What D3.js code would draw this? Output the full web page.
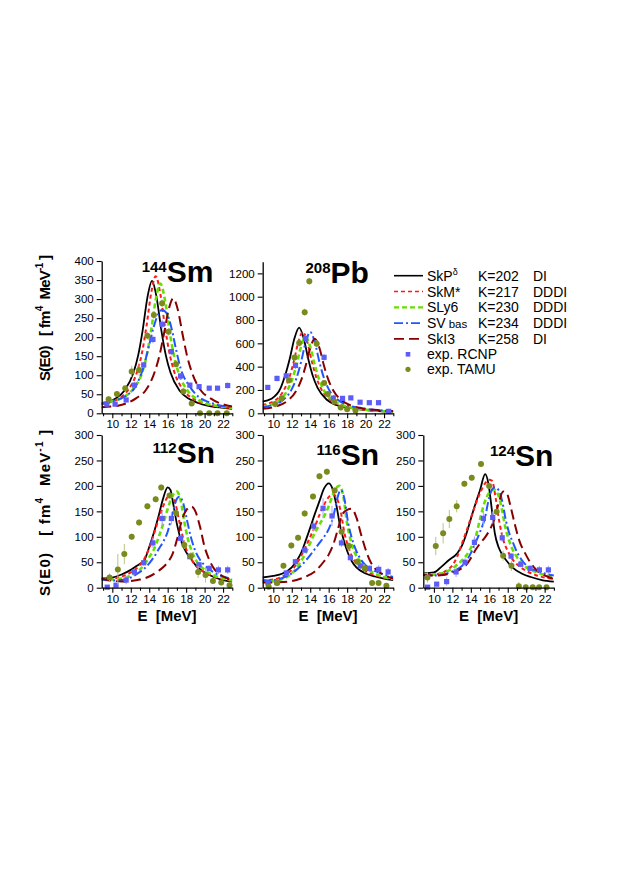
<!DOCTYPE html>
<html>
<head>
<meta charset="utf-8">
<script src="https://cdn.jsdelivr.net/npm/d3@7"></script>
<style>
  body { margin: 0; background: #fff; }
  svg { display: block; }
  text { font-family: "Liberation Sans", Arial, sans-serif; fill: #000; }
</style>
</head>
<body>
<svg id="chart" width="621" height="877"></svg>
<script>
// ---- legend / model info ----
const modelNames = ["SkP", "SkM*", "SLy6", "SV", "SkI3"];
const modelK = ["K=202", "K=217", "K=230", "K=234", "K=258"];
const modelType = ["DI", "DDDI", "DDDI", "DDDI", "DI"];
const expNames = ["exp. RCNP", "exp. TAMU"];

// ---- panels ----
const massNumbers = ["144", "208", "112", "116", "124"];
const elements = ["Sm", "Pb", "Sn", "Sn", "Sn"];
const yMaxima = [400, 1300, 300, 300, 300];
const yTickLabels = [
  [0, 50, 100, 150, 200, 250, 300, 350, 400],
  [0, 200, 400, 600, 800, 1000, 1200],
  [0, 50, 100, 150, 200, 250, 300],
  [0, 50, 100, 150, 200, 250, 300],
  [0, 50, 100, 150, 200, 250, 300]
];
const xTickLabels = [10, 12, 14, 16, 18, 20, 22];
const xMinorTicks = [9, 11, 13, 15, 17, 19, 21, 23];

// ---- 144Sm : [E (MeV), S(E0)] ----
const sm144_SkP = [[8.8,25],[10.3,38],[11.3,59],[12.3,107],[12.8,152],[13.3,220],[13.8,304],[14.3,348],[14.8,304],[15.3,220],[15.8,152],[16.3,107],[17.3,59],[18.3,38],[19.3,27],[20.3,20],[21.3,16],[23,12]];
const sm144_SkM = [[8.8,24],[10.7,39],[11.7,61],[12.7,110],[13.2,157],[13.7,228],[14.2,314],[14.7,360],[15.2,314],[15.7,228],[16.2,157],[16.7,110],[17.7,61],[18.7,39],[19.7,27],[20.7,21],[21.7,17],[23,14]];
const sm144_SLy6 = [[8.8,27],[11.2,42],[12.2,62],[13.2,105],[13.7,149],[14.2,216],[14.7,298],[15.2,341],[15.7,298],[16.2,216],[16.7,149],[17.2,105],[18.2,58],[19.2,37],[20.2,26],[21.2,20],[23,14]];
const sm144_SV = [[8.8,26],[10.5,35],[11.5,46],[12.5,70],[13.3,115],[14,180],[14.5,228],[15,262],[15.4,271],[15.9,262],[16.4,225],[16.9,168],[17.4,118],[18.4,70],[19.4,42],[20.4,30],[21.4,22],[23,16]];
const sm144_SkI3 = [[8.8,16],[10.6,20],[11.6,27],[12.6,40],[13.6,60],[14.6,109],[15.1,151],[15.6,209],[16.1,272],[16.6,302],[17.1,272],[17.6,209],[18.1,151],[18.6,109],[19.6,60],[20.6,40],[21.6,27],[23,18]];
// [E, S, error]
const sm144_RCNP = [[9.4,24,5],[10.3,24,5],[11.5,35,5],[12.4,74,8],[13.4,127,8],[14.4,194,10],[15.4,234,12],[16.4,162,10],[17.4,98,8],[18.4,74,6],[19.4,70,6],[20.5,66,6],[21.4,66,6],[22.5,73,8]];
const sm144_TAMU = [[9.6,37,8],[10.5,51,6],[11.4,66,6],[12.1,110,15],[12.9,114,15],[13.8,204,10],[14.5,258,10],[15.4,289,10],[16.1,214,10],[16.9,129,8],[17.7,57,6],[18.6,26,5],[19.5,0,3],[20.5,0,3],[21.4,0,3],[22.4,0,3]];

// ---- 208Pb ----
const pb208_SkP = [[8.8,100],[9.8,125],[10.8,218],[11.3,330],[11.8,475],[12.3,645],[12.8,734],[13.3,639],[13.8,461],[14.3,315],[14.8,218],[15.8,116],[16.8,72],[17.8,52],[18.8,40],[19.8,30],[21,22],[23,14]];
const pb208_SkM = [[8.8,72],[10.2,110],[11.2,207],[11.7,299],[12.2,438],[12.7,607],[13.2,697],[13.7,607],[14.2,438],[14.7,299],[15.2,207],[16.2,115],[17.2,72],[18.2,50],[19.2,37],[20.2,28],[21.5,21],[23,15]];
const pb208_SLy6 = [[8.8,58],[10.5,103],[11.5,194],[12,281],[12.5,411],[13,570],[13.5,654],[14,570],[14.5,411],[15,281],[15.5,194],[16.5,108],[17.5,68],[18.5,48],[19.5,35],[20.5,27],[21.5,21],[23,15]];
const pb208_SV = [[8.8,50],[10,75],[11,110],[12,207],[12.5,299],[13,438],[13.5,607],[14,697],[14.5,607],[15,438],[15.5,299],[16,207],[17,115],[18,72],[19,50],[20,37],[21,29],[22,23],[23,18]];
const pb208_SkI3 = [[8.8,38],[10.5,65],[11.5,105],[12.5,195],[13,280],[13.5,405],[14,560],[14.5,640],[15,560],[15.5,405],[16,280],[16.5,195],[17.5,105],[18.5,65],[19.5,45],[20.5,33],[21.5,26],[23,18]];
const pb208_RCNP = [[9.4,222,20],[10.4,299,25],[11.4,321,25],[12.4,410,30],[13.5,640,30],[15.5,480,30],[16.5,130,15],[17.5,128,12],[18.4,132,12],[19.4,95,10],[20.4,91,10],[21.4,91,10],[22.5,17,8]];
const pb208_TAMU = [[10.2,80,30],[10.9,128,30],[11.7,284,30],[12.3,478,30],[12.8,603,30],[13.4,867,30],[13.9,1132,30],[14.7,597,30],[15.5,260,20],[15.9,165,15],[16.6,98,12],[17.3,50,10],[18,35,8],[18.9,25,8]];

// ---- 112Sn ----
const sn112_SkP = [[8.8,18],[10,20],[11,26],[12,35],[12.5,41],[13,47],[13.5,55],[14,80],[14.5,108],[15,140],[15.5,175],[16,197],[16.3,192],[16.6,165],[17,125],[17.5,90],[18,70],[18.5,57],[19,45],[20,30],[21,21],[22,15],[23,12]];
const sn112_SkM = [[8.8,18],[10,18],[11,22],[12,30],[12.5,36],[13,45],[13.5,58],[14,78],[14.5,105],[15,133],[15.5,160],[16,178],[16.4,182],[16.8,168],[17.2,135],[17.6,102],[18,76],[18.5,58],[19,44],[20,30],[21,22],[22,17],[23,14]];
const sn112_SLy6 = [[8.8,17],[10,16],[11,18],[12,24],[12.5,29],[13,36],[13.5,46],[14,60],[14.5,75],[15,98],[15.5,125],[16,155],[16.5,180],[17,189],[17.4,172],[17.8,130],[18.2,95],[18.6,72],[19,56],[20,35],[21,24],[22,18],[23,14]];
const sn112_SV = [[8.8,16],[10,14],[11,15],[12,20],[12.5,25],[13,31],[13.5,38],[14,48],[14.5,60],[15,75],[15.5,90],[16,110],[16.5,145],[17,175],[17.3,179],[17.7,165],[18.1,132],[18.5,100],[19,72],[19.5,55],[20,44],[21,30],[22,22],[23,17]];
const sn112_SkI3 = [[8.8,18],[10,14],[11,12],[12,13],[13,16],[14,22],[15,33],[15.5,40],[16,50],[16.5,65],[17,94],[17.5,130],[18,152],[18.6,159],[19,150],[19.5,120],[20,80],[20.5,55],[21,38],[21.5,28],[22,22],[23,15]];
const sn112_RCNP = [[9.45,1,3],[10.4,5,3],[11.5,15,8],[12.4,31,6],[13.4,49,6],[14.4,88,10],[15.4,136,15],[16.4,136,12],[17.4,97,8],[18.4,61,6],[19.4,45,6],[20.5,38,6],[21.5,35,8],[22.5,35,8]];
const sn112_TAMU = [[9.7,20,8],[10.6,36,30],[11.3,66,20],[12.1,100,6],[12.9,128,6],[13.8,160,6],[14.7,174,6],[15.3,197,6],[16.2,181,6],[16.9,147,6],[17.8,84,8],[18.5,62,8],[19.3,31,12],[20.1,25,15],[20.9,13,6],[21.8,10,5],[22.7,5,5]];

// ---- 116Sn ----
const sn116_SkP = [[8.8,20],[10,23],[11,28],[12,40],[12.5,52],[13,68],[13.5,92],[14,118],[14.5,145],[15,170],[15.5,195],[16,205],[16.4,195],[16.8,165],[17.2,125],[17.6,95],[18,72],[18.5,52],[19,40],[20,28],[21,22],[22,18],[23,15]];
const sn116_SkM = [[8.8,14],[10,16],[11,22],[12,35],[12.5,46],[13,62],[13.5,80],[14,100],[14.5,120],[15,143],[15.5,163],[16,178],[16.5,183],[16.9,175],[17.3,150],[17.7,108],[18.1,82],[18.5,62],[19,48],[20,33],[21,25],[22,20],[23,17]];
const sn116_SLy6 = [[8.8,12],[10,13],[11,17],[12,28],[12.5,38],[13,52],[13.5,68],[14,88],[14.5,108],[15,124],[15.5,140],[16,160],[16.5,185],[17,199],[17.2,200],[17.6,178],[18,125],[18.4,92],[18.8,70],[19.5,50],[20,40],[21,28],[22,21],[23,17]];
const sn116_SV = [[8.8,14],[10,15],[11,19],[12,28],[12.5,35],[13,43],[13.5,53],[14,64],[14.5,76],[15,88],[15.5,100],[16,115],[16.5,140],[17,180],[17.3,192],[17.7,175],[18.1,128],[18.5,98],[19,72],[19.5,55],[20,44],[21,33],[22,26],[23,21]];
const sn116_SkI3 = [[8.8,10],[10,10],[11,11],[12,13],[13,18],[14,26],[14.5,32],[15,41],[15.5,52],[16,65],[16.5,85],[17,115],[17.5,145],[18,153],[18.5,155],[19,138],[19.5,105],[20,75],[20.5,52],[21,38],[22,25],[23,18]];
const sn116_RCNP = [[9.42,9,4],[10.4,10,4],[11.41,29,6],[12.39,51,6],[13.4,74,6],[14.37,121,10],[15.39,156,20],[16.36,141,20],[17.38,88,8],[18.35,59,6],[19.44,43,6],[20.41,38,6],[21.42,36,8],[22.44,31,8]];
const sn116_TAMU = [[9.5,2,4],[10.4,9,6],[11.1,43,6],[11.95,83,6],[12.68,98,6],[13.4,146,6],[14.3,179,6],[15,219,6],[15.8,228,6],[16.65,191,6],[17.4,110,8],[18.2,82,8],[19.1,51,8],[19.9,38,8],[20.7,9,5],[21.4,9,5],[22.25,4,4]];

// ---- 124Sn ----
const sn124_SkP = [[8.8,28],[10,30],[10.8,41],[11.6,54],[12.5,67],[13,81],[13.5,105],[14,135],[14.5,165],[15,192],[15.55,223],[15.9,205],[16.3,150],[16.6,107],[17,80],[17.4,65],[18,50],[18.5,40],[19.5,28],[20.5,21],[21.7,15],[23,12]];
const sn124_SkM = [[8.8,25],[10,26],[11,30],[11.5,35],[12,44],[12.5,60],[13,85],[13.5,110],[14,137],[14.5,163],[15,186],[15.5,204],[16,212],[16.3,210],[16.7,175],[17.1,128],[17.5,95],[18,72],[18.5,56],[19,46],[20,33],[21,25],[22,20],[23,17]];
const sn124_SLy6 = [[8.8,27],[10,26],[11,29],[12,38],[12.5,45],[13,53],[13.5,63],[14,78],[14.5,98],[15,135],[15.5,168],[16,187],[16.5,193],[16.9,185],[17.3,160],[17.7,122],[18.1,95],[18.5,76],[19,60],[19.5,48],[20,40],[21,31],[22,25],[23,21]];
const sn124_SV = [[8.8,25],[10,24],[11,26],[12,32],[12.5,36],[13,42],[13.5,52],[14,68],[14.5,88],[15,110],[15.5,135],[16,178],[16.3,193],[16.6,197],[17,192],[17.4,170],[17.8,132],[18.2,105],[18.6,87],[19,70],[19.5,55],[20,44],[21,34],[22,28],[23,24]];
const sn124_SkI3 = [[8.8,25],[10,24],[11,25],[12,30],[12.5,33],[13,38],[13.5,45],[14,58],[14.5,74],[15,87],[15.5,98],[16,112],[16.5,132],[17,165],[17.5,189],[17.9,185],[18.3,160],[18.8,122],[19.3,90],[19.9,67],[20.5,48],[21,37],[22,24],[23,17]];
const sn124_RCNP = [[9.32,1,3],[10.3,7,3],[11.38,12,8],[12.4,31,10],[13.37,50,8],[14.39,89,12],[15.36,136,15],[16.37,138,12],[17.4,98,8],[18.36,62,6],[19.41,46,6],[20.42,38,6],[21.43,35,8],[22.4,35,8]];
const sn124_TAMU = [[9.3,20,10],[10.2,82,18],[11,107,20],[11.67,135,18],[12.47,160,12],[13.3,204,6],[14.1,216,6],[15.1,243,6],[15.98,200,6],[16.8,149,6],[17.5,63,10],[18.4,43,10],[19.2,3,8],[19.95,1,6],[20.7,1,5],[21.4,1,4],[22.2,1,4]];

const panelCurves = [
  [sm144_SkP, sm144_SkM, sm144_SLy6, sm144_SV, sm144_SkI3],
  [pb208_SkP, pb208_SkM, pb208_SLy6, pb208_SV, pb208_SkI3],
  [sn112_SkP, sn112_SkM, sn112_SLy6, sn112_SV, sn112_SkI3],
  [sn116_SkP, sn116_SkM, sn116_SLy6, sn116_SV, sn116_SkI3],
  [sn124_SkP, sn124_SkM, sn124_SLy6, sn124_SV, sn124_SkI3]
];
const panelRCNP = [sm144_RCNP, pb208_RCNP, sn112_RCNP, sn116_RCNP, sn124_RCNP];
const panelTAMU = [sm144_TAMU, pb208_TAMU, sn112_TAMU, sn116_TAMU, sn124_TAMU];

// ---- styles ----
const lineStyles = [
  { color: "#000000", width: 1.8, dash: null },
  { color: "#ff1a1a", width: 2.0, dash: "4,3" },
  { color: "#66e000", width: 2.6, dash: "5,3" },
  { color: "#2255ff", width: 2.0, dash: "9,3,2,3" },
  { color: "#880000", width: 2.0, dash: "10,5" }
];
const rcnpColor = "#5c5cf6", rcnpErr = "#a5a5fb";
const tamuColor = "#7a8a1c", tamuErr = "#bcc481";

// ---- layout ----
const panelBox = [
  { left: 101.7, top: 261.0, bottom: 413.3, titleX: 141.7, titleY: 282 },
  { left: 262.7, top: 261.7, bottom: 413.3, titleX: 305.5, titleY: 283 },
  { left: 101.7, top: 435.0, bottom: 587.7, titleX: 152.5, titleY: 463 },
  { left: 262.7, top: 435.0, bottom: 587.7, titleX: 316.5, titleY: 465 },
  { left: 423.3, top: 435.0, bottom: 587.7, titleX: 490.0, titleY: 466 }
];
const panelWidth = 130.6;

const svg = d3.select("#chart");
const defs = svg.append("defs");

function styleAxis(sel) {
  sel.select(".domain").attr("stroke", "#000").attr("stroke-width", 1.3);
  sel.selectAll(".tick line").attr("stroke", "#000").attr("stroke-width", 1.1);
  sel.selectAll(".tick text").attr("font-size", 11.5).attr("fill", "#000")
    .attr("font-family", '"Liberation Sans", Arial, sans-serif');
}

panelBox.forEach(function(b, i) {
  const x = d3.scaleLinear().domain([8.85, 23]).range([b.left, b.left + panelWidth]);
  const y = d3.scaleLinear().domain([0, yMaxima[i]]).range([b.bottom, b.top]);

  defs.append("clipPath").attr("id", "clip" + i)
    .append("rect")
    .attr("x", b.left).attr("y", b.top - 5)
    .attr("width", panelWidth).attr("height", b.bottom - b.top + 5);

  const g = svg.append("g");

  // curves
  const line = d3.line()
    .x(d => x(d[0]))
    .y(d => y(d[1]))
    .curve(d3.curveMonotoneX);
  const cg = g.append("g").attr("clip-path", "url(#clip" + i + ")");
  panelCurves[i].forEach(function(c, k) {
    const st = lineStyles[k];
    cg.append("path")
      .datum(c)
      .attr("d", line)
      .attr("fill", "none")
      .attr("stroke", st.color)
      .attr("stroke-width", st.width)
      .attr("stroke-dasharray", st.dash);
  });

  // experiment: RCNP squares
  const rg = g.append("g");
  rg.selectAll("line.err").data(panelRCNP[i]).enter().append("line")
    .attr("x1", d => x(d[0])).attr("x2", d => x(d[0]))
    .attr("y1", d => y(Math.max(0, d[1] - d[2]))).attr("y2", d => y(d[1] + d[2]))
    .attr("stroke", rcnpErr).attr("stroke-width", 1);
  rg.selectAll("rect").data(panelRCNP[i]).enter().append("rect")
    .attr("x", d => x(d[0]) - 2.6).attr("y", d => y(d[1]) - 2.6)
    .attr("width", 5.2).attr("height", 5.2)
    .attr("fill", rcnpColor);

  // experiment: TAMU circles
  const tg = g.append("g");
  tg.selectAll("line.err").data(panelTAMU[i]).enter().append("line")
    .attr("x1", d => x(d[0])).attr("x2", d => x(d[0]))
    .attr("y1", d => y(Math.max(0, d[1] - d[2]))).attr("y2", d => y(d[1] + d[2]))
    .attr("stroke", tamuErr).attr("stroke-width", 1);
  tg.selectAll("circle").data(panelTAMU[i]).enter().append("circle")
    .attr("cx", d => x(d[0])).attr("cy", d => y(d[1]))
    .attr("r", 3)
    .attr("fill", tamuColor);

  // axes
  const xa = g.append("g").attr("transform", "translate(0," + b.bottom + ")")
    .call(d3.axisBottom(x).tickValues(xTickLabels).tickSize(5).tickSizeOuter(0).tickPadding(2).tickFormat(d3.format("d")));
  styleAxis(xa);
  const xm = g.append("g").attr("transform", "translate(0," + b.bottom + ")")
    .call(d3.axisBottom(x).tickValues(xMinorTicks).tickSize(3).tickSizeOuter(0).tickFormat(""));
  xm.select(".domain").remove();
  xm.selectAll(".tick line").attr("stroke", "#000").attr("stroke-width", 1.1);

  const ya = g.append("g").attr("transform", "translate(" + b.left + ",0)")
    .call(d3.axisLeft(y).tickValues(yTickLabels[i]).tickSize(5).tickSizeOuter(0).tickPadding(3).tickFormat(d3.format("d")));
  styleAxis(ya);

  // title
  const t = g.append("text")
    .attr("x", b.titleX).attr("y", b.titleY)
    .attr("font-weight", "bold");
  t.append("tspan").attr("font-size", 15).attr("dy", -10).text(massNumbers[i]);
  t.append("tspan").attr("font-size", 30).attr("dy", 10).text(elements[i]);

  // x label under lower panels
  if (i >= 2) {
    g.append("text")
      .attr("x", b.left + panelWidth / 2).attr("y", 621)
      .attr("text-anchor", "middle")
      .attr("font-size", 15).attr("font-weight", "bold")
      .style("white-space", "pre")
      .text("E  [MeV]");
  }
});

// y-axis titles
function yTitle(cx, cy, len) {
  const t = svg.append("text")
    .attr("transform", "translate(" + cx + "," + cy + ") rotate(-90)")
    .attr("text-anchor", "middle")
    .attr("font-size", 15).attr("font-weight", "bold")
    .style("white-space", "pre")
    .attr("textLength", len).attr("lengthAdjust", "spacing");
  t.append("tspan").text("S(E0)   [ fm");
  t.append("tspan").attr("font-size", 10).attr("dy", -7).text("4");
  t.append("tspan").attr("dy", 7).text("  MeV");
  t.append("tspan").attr("font-size", 10).attr("dy", -7).text("-1");
  t.append("tspan").attr("dy", 7).text(" ]");
}
yTitle(50, 318, 126);
yTitle(50, 513, 166);

// legend
const legX = 394, legRow0 = 275.7, legStep = 15.8;
lineStyles.forEach(function(st, k) {
  const yy = legRow0 + k * legStep;
  svg.append("line")
    .attr("x1", legX).attr("x2", legX + 29)
    .attr("y1", yy).attr("y2", yy)
    .attr("stroke", st.color)
    .attr("stroke-width", k === 2 ? 2.2 : 1.6)
    .attr("stroke-dasharray", st.dash);
  const t = svg.append("text").attr("x", legX + 33).attr("y", yy + 5).attr("font-size", 14);
  if (k === 0) {
    t.append("tspan").text(modelNames[k]);
    t.append("tspan").attr("font-size", 9).attr("dy", -6).text("\u03b4");
  } else if (k === 3) {
    t.append("tspan").text(modelNames[k]);
    t.append("tspan").attr("font-size", 11.5).attr("dx", 3).text("bas");
  } else {
    t.text(modelNames[k]);
  }
  svg.append("text").attr("x", 478).attr("y", yy + 5).attr("font-size", 14).text(modelK[k]);
  svg.append("text").attr("x", 533).attr("y", yy + 5).attr("font-size", 14).text(modelType[k]);
});
const expY = [354.3, 369.3];
svg.append("rect").attr("x", 408 - 2.3).attr("y", expY[0] - 2.3).attr("width", 4.6).attr("height", 4.6).attr("fill", rcnpColor);
svg.append("circle").attr("cx", 408).attr("cy", expY[1]).attr("r", 2.6).attr("fill", tamuColor);
expNames.forEach(function(n, k) {
  svg.append("text").attr("x", legX + 33).attr("y", expY[k] + 5).attr("font-size", 14).text(n);
});
</script>
</body>
</html>
